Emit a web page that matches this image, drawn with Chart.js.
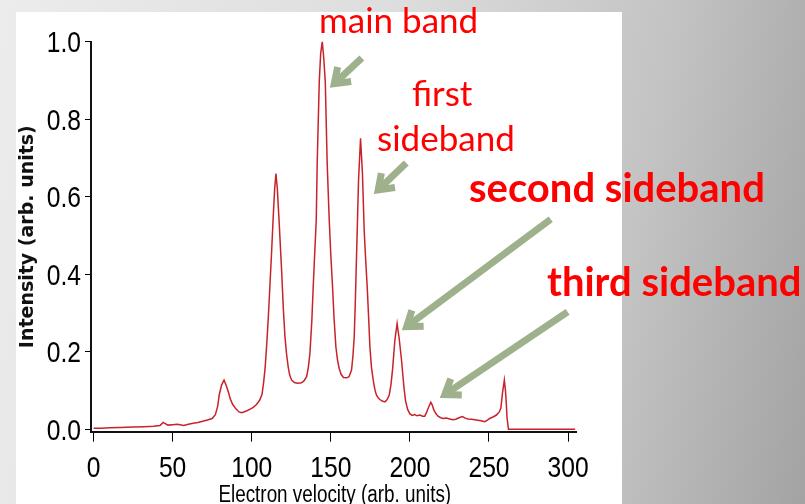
<!DOCTYPE html>
<html><head><meta charset="utf-8">
<script src="https://cdn.jsdelivr.net/npm/chart.js@4.4.0/dist/chart.umd.min.js"></script>
<style>
html,body{margin:0;padding:0;width:805px;height:504px;overflow:hidden;}
body{background:linear-gradient(100deg,#ececec 0%,#dddddd 45%,#c3c3c3 76%,#a3a3a3 100%);position:relative;}
#panel{position:absolute;left:16px;top:12px;width:606px;height:492px;background:#fff;}
#wrap{position:absolute;left:0;top:0;width:805px;height:504px;}
</style></head><body>
<div id="panel"></div>
<div id="wrap"><canvas id="c" width="805" height="504"></canvas></div>
<script>
// ---- data ----
const velocity = [0,5,10,17,25,32,38,42,44,47,50,53,57,60,63,66,69,72,75,77,78.5,79.5,81,82.5,84,85.2,86.5,88,90,92,93.5,95,97,99,101,103,105,106.5,107.5,108.5,109.5,110.5,111.5,112.6,113.5,114.5,115.3,116.2,117.4,118.9,120,121,122,123.1,124,125.2,127,129,131.5,133,134.7,135.8,136.8,138,138.9,140,140.8,141.4,142.7,143.6,144.6,145.5,146.5,147.7,149,150,151.1,152,153.2,154.2,155.3,156.5,158,160,161.5,163.1,164,164.8,165.5,166.3,166.7,167.5,168.8,170,171.1,172,173,174,174.7,175.7,176.8,178,178.9,180,181,182.5,184.2,185.5,186.9,188,189,190.5,191.9,193.2,194.7,196.2,197.2,198.5,200,201.5,203,204.5,206.3,208,209.4,210.5,211.5,213.2,214.2,215.1,216.5,217.8,219.5,221,223,225.2,227,229,231,233.2,235,236.7,239,242,245,247.3,249,250.4,252.5,254.7,256.5,257.5,258.5,259.7,260.4,260.9,261.4,262.3,270,280,290,300,304.5];
const intensity = [0.003,0.003,0.004,0.005,0.006,0.007,0.008,0.010,0.018,0.011,0.012,0.013,0.010,0.013,0.016,0.018,0.021,0.024,0.028,0.038,0.06,0.09,0.115,0.127,0.112,0.097,0.078,0.064,0.053,0.045,0.043,0.045,0.048,0.052,0.057,0.064,0.075,0.09,0.12,0.16,0.22,0.29,0.37,0.46,0.54,0.62,0.66,0.62,0.53,0.41,0.31,0.24,0.195,0.16,0.14,0.127,0.121,0.119,0.12,0.125,0.136,0.16,0.196,0.28,0.37,0.47,0.54,0.687,0.897,0.97,1.0,0.96,0.897,0.687,0.54,0.45,0.368,0.29,0.213,0.18,0.157,0.142,0.134,0.133,0.136,0.153,0.19,0.239,0.33,0.454,0.514,0.64,0.751,0.66,0.514,0.44,0.368,0.28,0.213,0.16,0.127,0.1,0.088,0.081,0.077,0.073,0.071,0.076,0.088,0.115,0.153,0.23,0.273,0.235,0.179,0.11,0.075,0.052,0.04,0.036,0.038,0.035,0.037,0.034,0.034,0.043,0.054,0.07,0.062,0.05,0.04,0.034,0.03,0.028,0.029,0.027,0.025,0.026,0.03,0.033,0.029,0.027,0.026,0.024,0.022,0.02,0.024,0.028,0.032,0.037,0.045,0.055,0.093,0.127,0.10,0.07,0.03,0.0,0,0,0,0,0];
const xTicks = [0,50,100,150,200,250,300];
const yTicks = [0,0.2,0.4,0.6,0.8,1.0];
const xTickLabels = ['0','50','100','150','200','250','300'];
const yTickLabels = ['0.0','0.2','0.4','0.6','0.8','1.0'];
const xTitle = 'Electron velocity (arb. units)';
const yTitle = 'Intensity (arb. units)';
const noteTexts = ['main band','first','sideband','second sideband','third sideband'];
// arrows: [velocity, intensity] of tail and tip
const arrowTails = [[169.6,0.958],[197.7,0.687],[289,0.542],[299.7,0.303]];
const arrowTips  = [[149.4,0.881],[177.2,0.607],[194.9,0.256],[218.9,0.081]];

// ---- layout / style ----
const TICK_FONT = "'Liberation Sans',Arial,sans-serif";
const SQUEEZE = 0.82;
const TITLE_SQUEEZE = 0.82;
const notePlaces = [
  {x:319,y:33,font:'35px Lato'},
  {x:412,y:106,font:'35px Lato'},
  {x:377,y:151,font:'35px Lato'},
  {x:469,y:202,font:'bold 40px Lato'},
  {x:547,y:296,font:'bold 40px Lato'}
];
const ARROW_COLOR = '#9eb08c';

function squeezedText(ctx, s, x, y, align, sq){
  ctx.save(); ctx.translate(x,y); ctx.scale(sq,1);
  ctx.textAlign=align; ctx.textBaseline='alphabetic'; ctx.fillText(s,0,0); ctx.restore();
}

const annot = {
  id:'annot',
  afterDraw(chart){
    const {ctx, scales:{x,y}} = chart;
    ctx.save();
    // tick labels and x title (condensed face)
    ctx.fillStyle='#000';
    ctx.font = "30px " + TICK_FONT;
    xTicks.forEach((v,i)=> squeezedText(ctx, xTickLabels[i], x.getPixelForValue(v), 477, 'center', SQUEEZE));
    yTicks.forEach((v,i)=> squeezedText(ctx, yTickLabels[i], 81, y.getPixelForValue(v)+10.5, 'right', SQUEEZE));
    ctx.font = "23px " + TICK_FONT;
    squeezedText(ctx, xTitle, (x.getPixelForValue(0)+x.getPixelForValue(305))/2, 502, 'center', TITLE_SQUEEZE);
    // arrows
    ctx.strokeStyle = ARROW_COLOR; ctx.lineWidth = 7; ctx.lineCap='butt'; ctx.lineJoin='miter';
    arrowTails.forEach((t,i)=>{
      const tp = arrowTips[i];
      const tx=x.getPixelForValue(t[0]), ty=y.getPixelForValue(t[1]);
      let hx=x.getPixelForValue(tp[0]), hy=y.getPixelForValue(tp[1]);
      const ang=Math.atan2(hy-ty,hx-tx);
      const w=0.62, back=3.5/Math.sin(w);
      hx -= Math.cos(ang)*back; hy -= Math.sin(ang)*back;
      ctx.beginPath(); ctx.moveTo(tx,ty); ctx.lineTo(hx-Math.cos(ang)*3,hy-Math.sin(ang)*3); ctx.stroke();
      const L=17;
      ctx.beginPath();
      ctx.moveTo(hx - L*Math.cos(ang-w), hy - L*Math.sin(ang-w));
      ctx.lineTo(hx,hy);
      ctx.lineTo(hx - L*Math.cos(ang+w), hy - L*Math.sin(ang+w));
      ctx.stroke();
    });
    // annotation words
    ctx.fillStyle='#ff0000'; ctx.textBaseline='alphabetic'; ctx.textAlign='left';
    noteTexts.forEach((s,i)=>{ const p=notePlaces[i]; ctx.font=p.font; ctx.fillText(s,p.x,p.y); });
    ctx.restore();
  }
};

new Chart(document.getElementById('c'), {
  type:'line',
  data:{ datasets:[{
    data: velocity.map((v,i)=>({x:v,y:intensity[i]})),
    borderColor:'#c8222a', borderWidth:1.5, pointRadius:0, tension:0, fill:false
  }]},
  options:{
    responsive:false, animation:false, devicePixelRatio:1,
    layout:{padding:{left:0,top:41.7,right:229,bottom:0}},
    plugins:{legend:{display:false},tooltip:{enabled:false}},
    scales:{
      x:{type:'linear',min:-1.6,max:305,
        afterBuildTicks:s=>{s.ticks=xTicks.map(v=>({value:v}));},
        afterFit:s=>{s.height=72.3;},
        grid:{drawOnChartArea:false,drawTicks:true,tickLength:10,color:'#000',lineWidth:1},
        border:{display:true,color:'#111',width:2},
        ticks:{display:false},
        title:{display:false}
      },
      y:{type:'linear',min:-0.006,max:1.0,
        afterBuildTicks:s=>{s.ticks=yTicks.map(v=>({value:v}));},
        afterFit:s=>{s.width=91;},
        grid:{drawOnChartArea:false,drawTicks:true,tickLength:6,color:'#000',lineWidth:1},
        border:{display:true,color:'#111',width:2},
        ticks:{display:false},
        title:{display:true,text:yTitle,color:'#111',font:{family:"'DejaVu Sans',Verdana,sans-serif",size:19,weight:'bold',lineHeight:1.2},padding:{top:17,bottom:0}}
      }
    }
  },
  plugins:[annot]
});
</script>
</body></html>
